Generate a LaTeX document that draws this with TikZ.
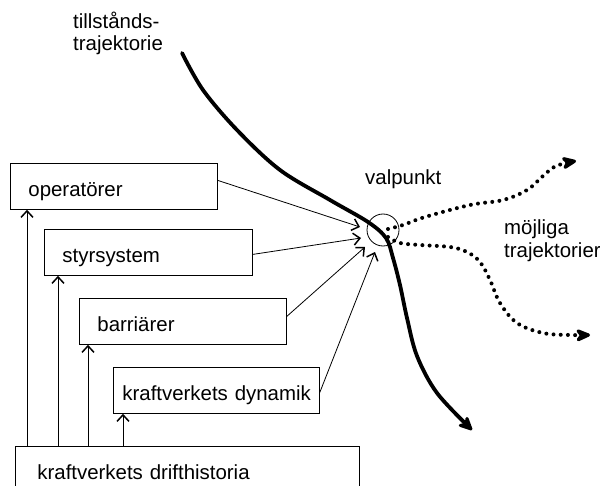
\documentclass[tikz,border=0pt]{standalone}
\usepackage{fontspec}
\setmainfont{Liberation Sans}
\usetikzlibrary{arrows.meta}
\begin{document}
\begin{tikzpicture}[x=1bp,y=-1bp,
  txt/.style={font=\fontsize{20.5}{23}\selectfont},
  factor/.style={txt, draw, line width=0.8bp, anchor=north west, inner ysep=0pt,
    text height=33bp, text depth=13bp, align=left},
  lbl/.style={txt, inner sep=0pt, anchor=base west, align=left},
  feed/.style={line width=0.8bp, -{Straight Barb[length=6.5bp,width=12bp,line width=1.5bp]}},
  traj/.style={line width=3.8bp, line cap=round,
    -{Stealth[length=18bp,width=17bp,inset=6bp,round]}},
  alt/.style={line width=4bp, line cap=round, dash pattern=on 0bp off 7.2bp,
    -{Stealth[length=19bp,width=16bp,inset=6bp,round]}}
]
\clip (0,0) rectangle (600,486);

% influencing factors
\node[factor, inner xsep=18bp, text width=171bp] (op)   at (10,163)  {operatörer};
\node[factor, inner xsep=18bp, text width=172bp] (styr) at (44,229)  {styrsystem};
\node[factor, inner xsep=18bp, text width=171bp] (barr) at (79,298)  {barriärer};
\node[factor, inner xsep=9bp,  text width=188bp] (dyn)  at (113,367) {\mbox{kraftverkets dynamik}};
\node[factor, inner xsep=22bp, text width=300bp, text depth=20bp] (hist) at (15,446)
  {kraftverkets drifthistoria};

% operating history feeds every factor
\draw[feed] ([xshift=17bp]op.south west |- hist.north)   -- ([xshift=17bp]op.south west);
\draw[feed] ([xshift=14bp]styr.south west |- hist.north) -- ([xshift=14bp]styr.south west);
\draw[feed] ([xshift=9bp]barr.south west |- hist.north)  -- ([xshift=9bp]barr.south west);
\draw[feed] ([xshift=10bp]dyn.south west |- hist.north)  -- ([xshift=10bp]dyn.south west);

% decision point
\node[circle, draw, line width=0.8bp, minimum size=32bp, inner sep=0pt] (vp) at (383,230) {};
\node[lbl] (vplbl) at (365,185) {valpunkt};

\coordinate (in1) at (360,227);
\coordinate (in2) at (361,238);
\coordinate (in3) at (365,247);
\coordinate (in4) at (375,252);
\draw[feed] ([yshift=6bp]op.east)  -- (in1);
\draw[feed] ([yshift=-2bp]styr.east) -- (in2);
\draw[feed] ([yshift=5bp]barr.east) -- (in3);
\draw[feed] ([yshift=-2bp]dyn.east) -- (in4);

% state trajectory
\node[lbl] (tlbl) at (73,51) {tillstånds-\\trajektorie};
\draw[traj] plot[smooth, tension=0.55] coordinates {
  (182,53) (203,90) (237,130) (280,170) (330,200) (368,222) (386,238)
  (393,258) (400,285) (407,318) (417,356) (437,393) (472,430)};

% possible trajectories
\node[lbl] (mlbl) at (504,257) {möjliga\\trajektorier};
\draw[alt] plot[smooth, tension=0.6] coordinates {
  (388,229) (403,225) (425,217) (470,205) (503,200) (527,190) (543,176) (556,166) (576,161)};
\draw[alt] plot[smooth, tension=0.6] coordinates {
  (388,237) (400,243) (420,245) (450,247) (467,252) (480,262) (490,280) (500,303)
  (517,323) (543,333) (570,335) (590,335)};
\end{tikzpicture}
\end{document}
